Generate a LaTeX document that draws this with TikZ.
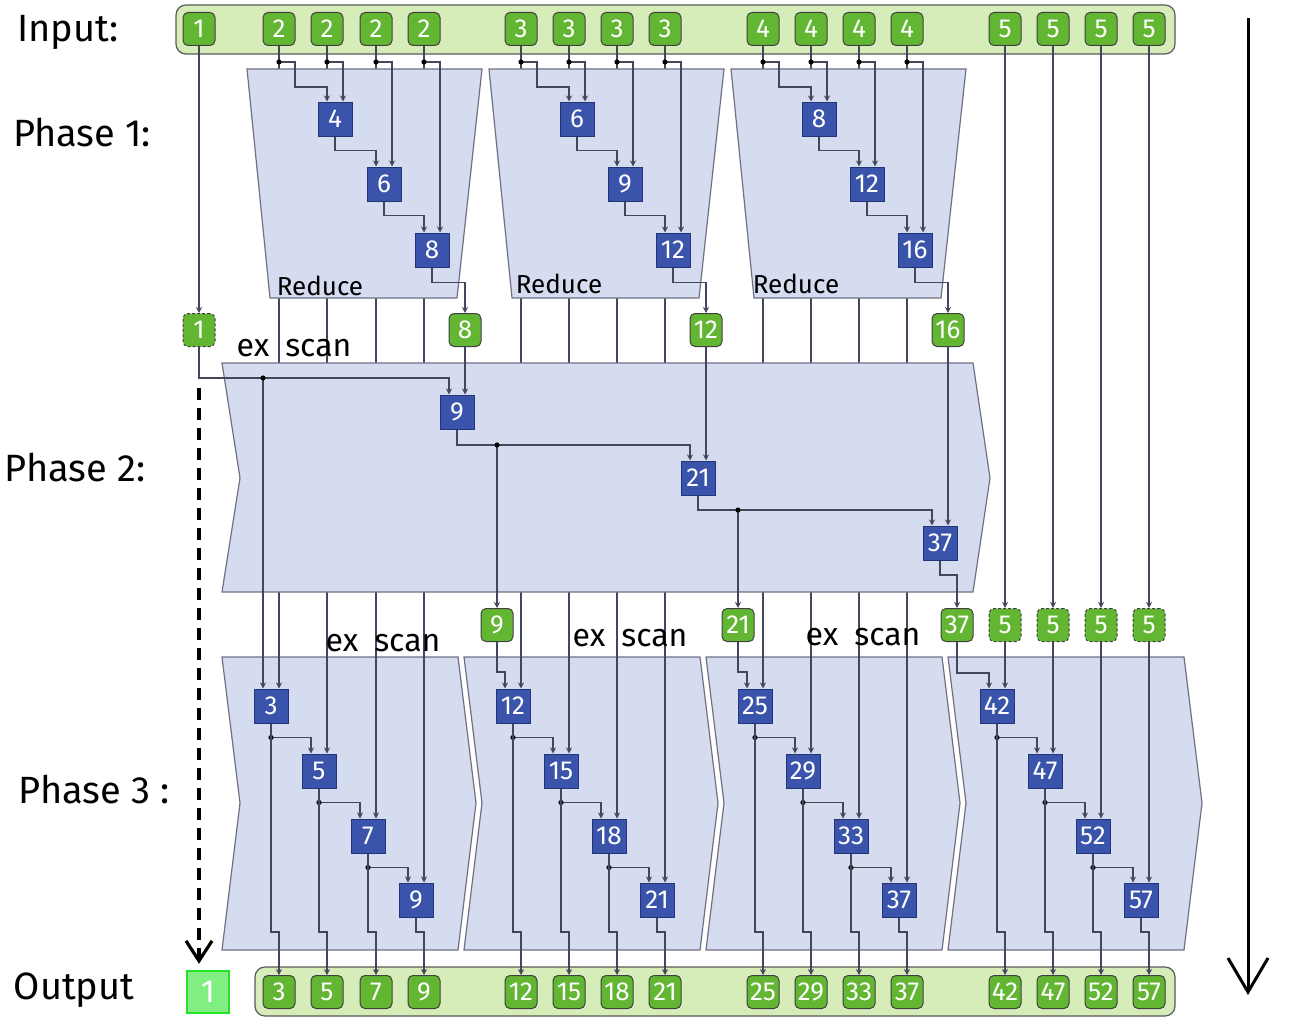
\documentclass[tikz,border=0pt]{standalone}
\usepackage{fontspec}
\setmainfont{Fira Sans}
\usetikzlibrary{arrows.meta}
\pgfdeclarelayer{back}
\pgfsetlayers{back,main}

\definecolor{barfill}{RGB}{214,237,186}
\definecolor{valfill}{RGB}{98,182,50}
\definecolor{opfill}{RGB}{58,84,172}
\definecolor{opline}{RGB}{36,52,120}
\definecolor{bandfill}{RGB}{213,220,239}
\definecolor{bandline}{RGB}{112,112,132}
\definecolor{wire}{RGB}{68,70,92}
\definecolor{firstfill}{RGB}{128,238,128}
\definecolor{firstline}{RGB}{40,224,40}

\begin{document}
\begin{tikzpicture}[
  x=0.5pt, y=-0.5pt,
  font=\fontsize{13}{15}\selectfont,
  val/.style={draw=black!75, line width=0.5pt, rounded corners=2.5pt, fill=valfill,
              text=white, minimum width=16pt, minimum height=16.5pt, inner sep=0pt},
  valdash/.style={val, dash pattern=on 1.5pt off 1pt},
  first/.style={draw=firstline, line width=1.2pt, fill=firstfill, text=white,
                minimum size=21pt, inner sep=0pt, font=\fontsize{16}{18}\selectfont},
  op/.style={draw=opline, line width=0.5pt, fill=opfill, text=white,
             minimum size=17pt, inner sep=0pt},
  band/.style={draw=bandline, line width=0.6pt, fill=bandfill},
  bar/.style={draw=black!65, line width=0.6pt, rounded corners=5pt, fill=barfill},
  e/.style={draw=wire, line width=0.7pt},
  ea/.style={e, -{Stealth[length=3pt,width=3pt]}},
  jn/.style={fill=black},
  lbl/.style={font=\fontsize{19}{22}\selectfont},
  tag/.style={font=\fontsize{16}{18}\selectfont},
  redtag/.style={font=\fontsize{13}{15}\selectfont}
]
\useasboundingbox (0,0) rectangle (1293,1022);

% wire rows
\coordinate (tap) at (0,62);
\coordinate (exrow) at (0,378);
\coordinate (hop9) at (0,445);
\coordinate (hop21) at (0,510);
\coordinate (hop37) at (0,575);
\coordinate (jog) at (0,932);

% input values
\node[val] (in1) at (199,29)   {1};
\node[val] (in2a) at (279,29)  {2};
\node[val] (in2b) at (327,29)  {2};
\node[val] (in2c) at (376,29)  {2};
\node[val] (in2d) at (424,29)  {2};
\node[val] (in3a) at (521,29)  {3};
\node[val] (in3b) at (569,29)  {3};
\node[val] (in3c) at (617,29)  {3};
\node[val] (in3d) at (665,29)  {3};
\node[val] (in4a) at (763,29)  {4};
\node[val] (in4b) at (811,29)  {4};
\node[val] (in4c) at (859,29)  {4};
\node[val] (in4d) at (907,29)  {4};
\node[val] (in5a) at (1005,29) {5};
\node[val] (in5b) at (1053,29) {5};
\node[val] (in5c) at (1101,29) {5};
\node[val] (in5d) at (1149,29) {5};

% phase 1: reduce blocks
\node[op] (r2b) at (335,119) {4};
\node[op] (r2c) at (384,184) {6};
\node[op] (r2d) at (432,250) {8};
\node[op] (r3b) at (577,119) {6};
\node[op] (r3c) at (625,184) {9};
\node[op] (r3d) at (673,250) {12};
\node[op] (r4b) at (819,119) {8};
\node[op] (r4c) at (867,184) {12};
\node[op] (r4d) at (915,250) {16};

% block sums
\node[valdash] (init) at (199,330) {1};
\node[val] (sum2) at (465,330) {8};
\node[val] (sum3) at (706,330) {12};
\node[val] (sum4) at (948,330) {16};

% phase 2: scan of the sums
\node[op] (p9) at (457,412)  {9};
\node[op] (p21) at (698,478) {21};
\node[op] (p37) at (940,543) {37};

% block offsets
\node[val] (off9) at (497,625)  {9};
\node[val] (off21) at (738,625) {21};
\node[val] (off37) at (957,625) {37};
\node[valdash] (d5a) at (1005,625) {5};
\node[valdash] (d5b) at (1053,625) {5};
\node[valdash] (d5c) at (1101,625) {5};
\node[valdash] (d5d) at (1149,625) {5};

% phase 3: scan blocks
\node[op] (s2a) at (271,706)  {3};
\node[op] (s2b) at (319,771)  {5};
\node[op] (s2c) at (368,836)  {7};
\node[op] (s2d) at (416,900)  {9};
\node[op] (s3a) at (513,706)  {12};
\node[op] (s3b) at (561,771)  {15};
\node[op] (s3c) at (609,836)  {18};
\node[op] (s3d) at (657,900)  {21};
\node[op] (s4a) at (755,706)  {25};
\node[op] (s4b) at (803,771)  {29};
\node[op] (s4c) at (851,836)  {33};
\node[op] (s4d) at (899,900)  {37};
\node[op] (s5a) at (997,706)  {42};
\node[op] (s5b) at (1045,771) {47};
\node[op] (s5c) at (1093,836) {52};
\node[op] (s5d) at (1141,900) {57};

% output values
\node[first] (o1) at (208,992) {1};
\node[val] (o2a) at (279,992)  {3};
\node[val] (o2b) at (327,992)  {5};
\node[val] (o2c) at (376,992)  {7};
\node[val] (o2d) at (424,992)  {9};
\node[val] (o3a) at (521,992)  {12};
\node[val] (o3b) at (569,992)  {15};
\node[val] (o3c) at (617,992)  {18};
\node[val] (o3d) at (665,992)  {21};
\node[val] (o4a) at (763,992)  {25};
\node[val] (o4b) at (811,992)  {29};
\node[val] (o4c) at (859,992)  {33};
\node[val] (o4d) at (907,992)  {37};
\node[val] (o5a) at (1005,992) {42};
\node[val] (o5b) at (1053,992) {47};
\node[val] (o5c) at (1101,992) {52};
\node[val] (o5d) at (1149,992) {57};

\begin{pgfonlayer}{back}
% bars
\draw[bar] (176,5) rectangle (1175,54);
\draw[bar] (255,967) rectangle (1175,1016);
% phase 3 bands
\draw[band] (222,657) -- (458,657) -- (476,803) -- (458,950) -- (222,950) -- (240,803) -- cycle;
\draw[band] (464,657) -- (700,657) -- (718,803) -- (700,950) -- (464,950) -- (482,803) -- cycle;
\draw[band] (706,657) -- (942,657) -- (960,803) -- (942,950) -- (706,950) -- (724,803) -- cycle;
\draw[band] (948,657) -- (1184,657) -- (1202,803) -- (1184,950) -- (948,950) -- (966,803) -- cycle;
% columns running down to phase 3
\draw[ea] (in2a.south) -- ([xshift=4pt]s2a.north);
\draw[ea] (in2b.south) -- ([xshift=4pt]s2b.north);
\draw[ea] (in2c.south) -- ([xshift=4pt]s2c.north);
\draw[ea] (in2d.south) -- ([xshift=4pt]s2d.north);
\draw[ea] (in3a.south) -- ([xshift=4pt]s3a.north);
\draw[ea] (in3b.south) -- ([xshift=4pt]s3b.north);
\draw[ea] (in3c.south) -- ([xshift=4pt]s3c.north);
\draw[ea] (in3d.south) -- ([xshift=4pt]s3d.north);
\draw[ea] (in4a.south) -- ([xshift=4pt]s4a.north);
\draw[ea] (in4b.south) -- ([xshift=4pt]s4b.north);
\draw[ea] (in4c.south) -- ([xshift=4pt]s4c.north);
\draw[ea] (in4d.south) -- ([xshift=4pt]s4d.north);
% phase 1 and 2 bands
\draw[band] (247,69) -- (482,69) -- (457,298) -- (270,298) -- cycle;
\draw[band] (489,69) -- (724,69) -- (699,298) -- (512,298) -- cycle;
\draw[band] (731,69) -- (966,69) -- (941,298) -- (754,298) -- cycle;
\draw[band] (222,363) -- (973,363) -- (990,478) -- (973,592) -- (222,592) -- (240,478) -- cycle;
\end{pgfonlayer}

% phase 1 wiring
\draw[ea] (in2a |- tap) -- ++(16,0) -- ++(0,25) -| ([xshift=-4pt]r2b.north);
\draw[ea] (in2b |- tap) -| ([xshift=4pt]r2b.north);
\draw[ea] (in2c |- tap) -| ([xshift=4pt]r2c.north);
\draw[ea] (in2d |- tap) -| ([xshift=4pt]r2d.north);
\draw[ea] (r2b.south) -- ++(0,14) -| ([xshift=-4pt]r2c.north);
\draw[ea] (r2c.south) -- ++(0,14) -| ([xshift=-4pt]r2d.north);
\draw[ea] (r2d.south) -- ++(0,15) -| (sum2.north);
\draw[ea] (in3a |- tap) -- ++(16,0) -- ++(0,25) -| ([xshift=-4pt]r3b.north);
\draw[ea] (in3b |- tap) -| ([xshift=4pt]r3b.north);
\draw[ea] (in3c |- tap) -| ([xshift=4pt]r3c.north);
\draw[ea] (in3d |- tap) -| ([xshift=4pt]r3d.north);
\draw[ea] (r3b.south) -- ++(0,14) -| ([xshift=-4pt]r3c.north);
\draw[ea] (r3c.south) -- ++(0,14) -| ([xshift=-4pt]r3d.north);
\draw[ea] (r3d.south) -- ++(0,15) -| (sum3.north);
\draw[ea] (in4a |- tap) -- ++(16,0) -- ++(0,25) -| ([xshift=-4pt]r4b.north);
\draw[ea] (in4b |- tap) -| ([xshift=4pt]r4b.north);
\draw[ea] (in4c |- tap) -| ([xshift=4pt]r4c.north);
\draw[ea] (in4d |- tap) -| ([xshift=4pt]r4d.north);
\draw[ea] (r4b.south) -- ++(0,14) -| ([xshift=-4pt]r4c.north);
\draw[ea] (r4c.south) -- ++(0,14) -| ([xshift=-4pt]r4d.north);
\draw[ea] (r4d.south) -- ++(0,15) -| (sum4.north);
\fill[jn] (in2a |- tap) circle[radius=1.3pt] (in2b |- tap) circle[radius=1.3pt]
          (in2c |- tap) circle[radius=1.3pt] (in2d |- tap) circle[radius=1.3pt];
\fill[jn] (in3a |- tap) circle[radius=1.3pt] (in3b |- tap) circle[radius=1.3pt]
          (in3c |- tap) circle[radius=1.3pt] (in3d |- tap) circle[radius=1.3pt];
\fill[jn] (in4a |- tap) circle[radius=1.3pt] (in4b |- tap) circle[radius=1.3pt]
          (in4c |- tap) circle[radius=1.3pt] (in4d |- tap) circle[radius=1.3pt];

% phase 2 wiring
\draw[ea] (in1.south) -- (init.north);
\draw[ea] (init.south) -- (init |- exrow) -| ([xshift=-4pt]p9.north);
\draw[ea] (sum2.south) -- ([xshift=4pt]p9.north);
\draw[ea] (p9.south) -- (p9 |- hop9) -| ([xshift=-4pt]p21.north);
\draw[ea] (sum3.south) -- ([xshift=4pt]p21.north);
\draw[ea] (p21.south) -- (p21 |- hop21) -| ([xshift=-4pt]p37.north);
\draw[ea] (sum4.south) -- ([xshift=4pt]p37.north);
\draw[ea] (p37.south) -- (p37 |- hop37) -| (off37.north);
\draw[ea] (off9 |- hop9) -- (off9.north);
\draw[ea] (off21 |- hop21) -- (off21.north);
\draw[ea] ([xshift=-4pt]s2a.north |- exrow) -- ([xshift=-4pt]s2a.north);
\fill[jn] ([xshift=-4pt]s2a.north |- exrow) circle[radius=1.3pt]
          (off9 |- hop9) circle[radius=1.3pt] (off21 |- hop21) circle[radius=1.3pt];
\draw[black, line width=1.6pt, dash pattern=on 6pt off 4pt, -{Straight Barb[length=10pt,width=13pt]}]
  ([yshift=-5pt]init |- exrow) -- ([yshift=3pt]init |- o1.north);

% phase 3 wiring
\draw[ea] (off9.south) -- ++(0,30) -| ([xshift=-4pt]s3a.north);
\draw[ea] (off21.south) -- ++(0,30) -| ([xshift=-4pt]s4a.north);
\draw[ea] (off37.south) -- ++(0,31) -| ([xshift=-4pt]s5a.north);
\draw[ea] (in5a.south) -- (d5a.north);
\draw[ea] (in5b.south) -- (d5b.north);
\draw[ea] (in5c.south) -- (d5c.north);
\draw[ea] (in5d.south) -- (d5d.north);
\draw[ea] (d5a.south) -- ([xshift=4pt]s5a.north);
\draw[ea] (d5b.south) -- ([xshift=4pt]s5b.north);
\draw[ea] (d5c.south) -- ([xshift=4pt]s5c.north);
\draw[ea] (d5d.south) -- ([xshift=4pt]s5d.north);

\draw[ea] ([yshift=-7pt]s2a.south) -| ([xshift=-4pt]s2b.north);
\draw[ea] ([yshift=-7pt]s2b.south) -| ([xshift=-4pt]s2c.north);
\draw[ea] ([yshift=-7pt]s2c.south) -| ([xshift=-4pt]s2d.north);
\draw[ea] ([yshift=-7pt]s3a.south) -| ([xshift=-4pt]s3b.north);
\draw[ea] ([yshift=-7pt]s3b.south) -| ([xshift=-4pt]s3c.north);
\draw[ea] ([yshift=-7pt]s3c.south) -| ([xshift=-4pt]s3d.north);
\draw[ea] ([yshift=-7pt]s4a.south) -| ([xshift=-4pt]s4b.north);
\draw[ea] ([yshift=-7pt]s4b.south) -| ([xshift=-4pt]s4c.north);
\draw[ea] ([yshift=-7pt]s4c.south) -| ([xshift=-4pt]s4d.north);
\draw[ea] ([yshift=-7pt]s5a.south) -| ([xshift=-4pt]s5b.north);
\draw[ea] ([yshift=-7pt]s5b.south) -| ([xshift=-4pt]s5c.north);
\draw[ea] ([yshift=-7pt]s5c.south) -| ([xshift=-4pt]s5d.north);
\fill[jn] ([yshift=-7pt]s2a.south) circle[radius=1.3pt] ([yshift=-7pt]s2b.south) circle[radius=1.3pt]
          ([yshift=-7pt]s2c.south) circle[radius=1.3pt];
\fill[jn] ([yshift=-7pt]s3a.south) circle[radius=1.3pt] ([yshift=-7pt]s3b.south) circle[radius=1.3pt]
          ([yshift=-7pt]s3c.south) circle[radius=1.3pt];
\fill[jn] ([yshift=-7pt]s4a.south) circle[radius=1.3pt] ([yshift=-7pt]s4b.south) circle[radius=1.3pt]
          ([yshift=-7pt]s4c.south) circle[radius=1.3pt];
\fill[jn] ([yshift=-7pt]s5a.south) circle[radius=1.3pt] ([yshift=-7pt]s5b.south) circle[radius=1.3pt]
          ([yshift=-7pt]s5c.south) circle[radius=1.3pt];

% results
\draw[ea] (s2a.south) -- (s2a |- jog) -| (o2a.north);
\draw[ea] (s2b.south) -- (s2b |- jog) -| (o2b.north);
\draw[ea] (s2c.south) -- (s2c |- jog) -| (o2c.north);
\draw[ea] (s2d.south) -- (s2d |- jog) -| (o2d.north);
\draw[ea] (s3a.south) -- (s3a |- jog) -| (o3a.north);
\draw[ea] (s3b.south) -- (s3b |- jog) -| (o3b.north);
\draw[ea] (s3c.south) -- (s3c |- jog) -| (o3c.north);
\draw[ea] (s3d.south) -- (s3d |- jog) -| (o3d.north);
\draw[ea] (s4a.south) -- (s4a |- jog) -| (o4a.north);
\draw[ea] (s4b.south) -- (s4b |- jog) -| (o4b.north);
\draw[ea] (s4c.south) -- (s4c |- jog) -| (o4c.north);
\draw[ea] (s4d.south) -- (s4d |- jog) -| (o4d.north);
\draw[ea] (s5a.south) -- (s5a |- jog) -| (o5a.north);
\draw[ea] (s5b.south) -- (s5b |- jog) -| (o5b.north);
\draw[ea] (s5c.south) -- (s5c |- jog) -| (o5c.north);
\draw[ea] (s5d.south) -- (s5d |- jog) -| (o5d.north);

% labels
\node[lbl] (linput) at (68,32)  {Input:};
\node[lbl] (lph1) at (82,133)   {Phase 1:};
\node[lbl] (lph2) at (75,468)   {Phase 2:};
\node[lbl] (lph3) at (94,790)   {Phase 3 :};
\node[lbl] (lout) at (74,990)   {Output};
\node[redtag] (red2) at (320,286) {Reduce};
\node[redtag] (red3) at (559,284) {Reduce};
\node[redtag] (red4) at (796,284) {Reduce};
\node[tag] (ex1) at (294,348) {ex\hspace{0.5em}scan};
\node[tag] (ex2) at (383,643) {ex\hspace{0.5em}scan};
\node[tag] (ex3) at (630,638) {ex\hspace{0.5em}scan};
\node[tag] (ex4) at (863,637) {ex\hspace{0.5em}scan};

% time runs downwards
\coordinate (tl0) at (1248,18);
\coordinate (tl1) at (1248,995);
\draw[line width=1.5pt, -{Straight Barb[length=17pt,width=20pt]}] (tl0) -- (tl1);

\end{tikzpicture}
\end{document}
